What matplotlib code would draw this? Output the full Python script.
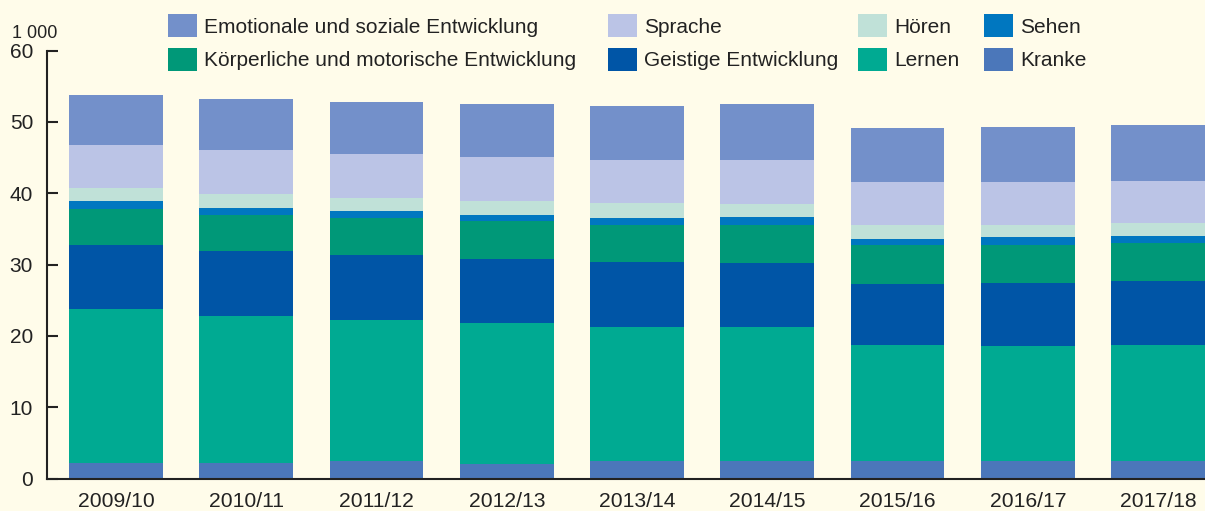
import matplotlib
matplotlib.use("Agg")
import matplotlib.pyplot as plt
import numpy as np

plt.rcParams["font.family"] = ["Liberation Sans", "DejaVu Sans"]

years = ["2009/10", "2010/11", "2011/12", "2012/13", "2013/14",
         "2014/15", "2015/16", "2016/17", "2017/18"]

# Schüler in 1 000, Stapel von unten nach oben
kranke = [2.2, 2.2, 2.4, 2.1, 2.4, 2.4, 2.4, 2.45, 2.45]
lernen = [21.6, 20.6, 19.8, 19.7, 18.8, 18.8, 16.3, 16.15, 16.25]
geistige = [8.9, 9.1, 9.1, 9.0, 9.2, 9.0, 8.6, 8.8, 9.0]
koerper = [5.1, 5.1, 5.2, 5.3, 5.1, 5.3, 5.4, 5.3, 5.3]
sehen = [1.1, 0.9, 1.0, 0.8, 1.0, 1.2, 0.9, 1.2, 1.0]
hoeren = [1.9, 2.0, 1.8, 2.0, 2.1, 1.8, 1.9, 1.6, 1.8]
sprache = [6.0, 6.2, 6.2, 6.2, 6.1, 6.2, 6.1, 6.1, 5.9]
emotional = [7.0, 7.1, 7.3, 7.4, 7.5, 7.8, 7.6, 7.7, 7.9]

series = [
    ("Kranke", kranke, "#4B77BA"),
    ("Lernen", lernen, "#00AA92"),
    ("Geistige Entwicklung", geistige, "#0055A6"),
    ("Körperliche und motorische Entwicklung", koerper, "#009878"),
    ("Sehen", sehen, "#0077C0"),
    ("Hören", hoeren, "#C0E1D8"),
    ("Sprache", sprache, "#BBC4E6"),
    ("Emotionale und soziale Entwicklung", emotional, "#7390CA"),
]

bg = "#FFFCEA"
fig = plt.figure(figsize=(12.05, 5.11), dpi=100, facecolor=bg)
ax = fig.add_axes([0.039, 0.0636, 0.961, 0.8372])
ax.set_facecolor(bg)

x = np.arange(len(years))
bottom = np.zeros(len(years))
handles = {}
for name, vals, color in series:
    vals = np.array(vals)
    b = ax.bar(x, vals, width=0.72, bottom=bottom, color=color, linewidth=0, label=name)
    handles[name] = b
    bottom += vals

ax.set_xlim(-0.53, 8.36)
ax.set_ylim(0, 60)
ax.set_yticks(range(0, 61, 10))
ax.set_xticks(x)
ax.set_xticklabels(years)

for side in ["top", "right"]:
    ax.spines[side].set_visible(False)
ax.spines["left"].set_linewidth(1.5)
ax.spines["bottom"].set_linewidth(1.5)
ax.spines["left"].set_color("#222222")
ax.spines["bottom"].set_color("#222222")

ax.tick_params(axis="y", direction="in", length=8, width=1.5, color="#222222",
               labelsize=15, labelcolor="#222222", pad=10)
ax.tick_params(axis="x", length=0, labelsize=15.2, labelcolor="#222222", pad=10)

fig.text(0.01, 0.918, "1 000", fontsize=13, color="#222222", ha="left", va="bottom")

# legend: four columns placed like the original
columns = [
    (168, ["Emotionale und soziale Entwicklung", "Körperliche und motorische Entwicklung"]),
    (608, ["Sprache", "Geistige Entwicklung"]),
    (858, ["Hören", "Lernen"]),
    (984, ["Sehen", "Kranke"]),
]
W, H = 1205, 511
for xpx, names in columns:
    leg = fig.legend([handles[n] for n in names], names, loc="upper left",
                     bbox_to_anchor=(xpx / W, 1 - 14 / H), frameon=False, fontsize=15,
                     handlelength=1.4, handleheight=1.33, handletextpad=0.35,
                     labelspacing=0.52, borderaxespad=0, borderpad=0)
    for t in leg.get_texts():
        t.set_color("#222222")

fig.savefig("out.png", dpi=100, facecolor=bg)
